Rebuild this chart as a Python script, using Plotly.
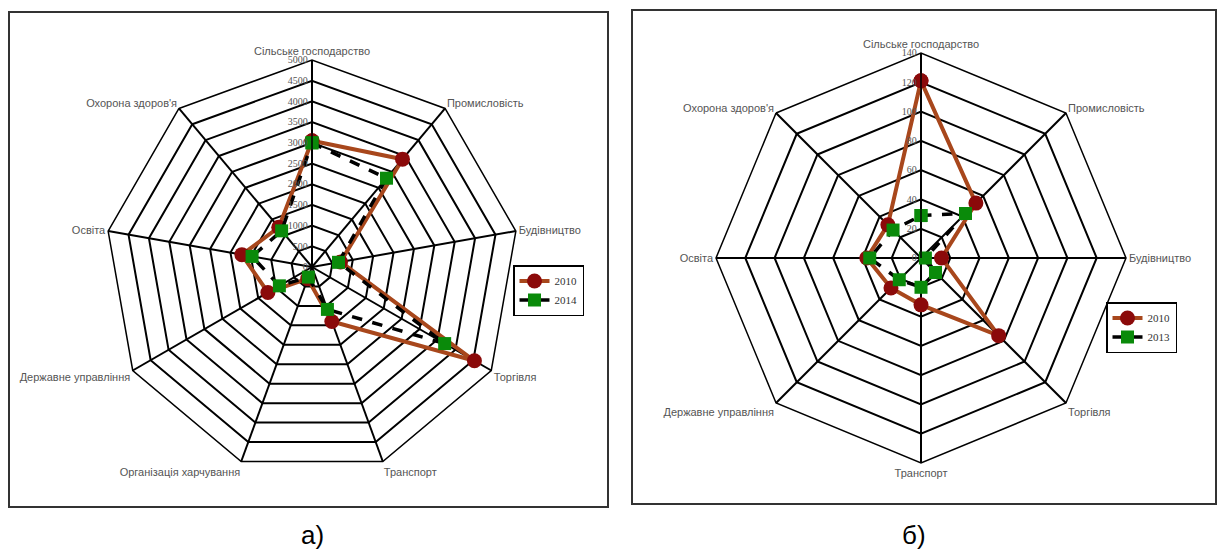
import plotly.graph_objects as go

W, H = 1218, 557

# Left chart (a)
cats_a = ["Сільське господарство", "Промисловість", "Будівництво", "Торгівля", "Транспорт",
          "Організація харчування", "Державне управління", "Освіта", "Охорона здоров'я"]
a_2010 = [3050, 3400, 700, 4530, 1400, 300, 1230, 1720, 1250]
a_2014 = [3000, 2800, 650, 3700, 1090, 260, 910, 1470, 1140]
a_ticks = [0, 500, 1000, 1500, 2000, 2500, 3000, 3500, 4000, 4500, 5000]

# Right chart (б)
cats_b = ["Сільське господарство", "Промисловість", "Будівництво", "Торгівля", "Транспорт",
          "Державне управління", "Освіта", "Охорона здоров'я"]
b_2010 = [121, 53, 14, 75, 32, 29, 37, 32]
b_2013 = [29, 43, 3, 14, 20, 21, 35, 27]
b_ticks = [0, 20, 40, 60, 80, 100, 120, 140]

BROWN = "#A8471C"
DRED = "#8B0A0A"
GREEN = "#0A8A0A"


def close(lst):
    return list(lst) + [lst[0]]


def px_dom(cx, cy, r):
    x = [(cx - r) / W, (cx + r) / W]
    y = [1 - (cy + r) / H, 1 - (cy - r) / H]
    return x, y


fig = go.Figure()

fig.add_trace(go.Scatterpolar(r=close(a_2010), theta=close(cats_a), mode="lines+markers", name="2010",
                              line=dict(color=BROWN, width=4),
                              marker=dict(symbol="circle", size=15, color=DRED),
                              subplot="polar", legend="legend"))
fig.add_trace(go.Scatterpolar(r=close(a_2014), theta=close(cats_a), mode="lines+markers", name="2014",
                              line=dict(color="black", width=3.5, dash="dash"),
                              marker=dict(symbol="square", size=13, color=GREEN),
                              subplot="polar", legend="legend"))
fig.add_trace(go.Scatterpolar(r=close(b_2010), theta=close(cats_b), mode="lines+markers", name="2010",
                              line=dict(color=BROWN, width=4),
                              marker=dict(symbol="circle", size=15, color=DRED),
                              subplot="polar2", legend="legend2"))
fig.add_trace(go.Scatterpolar(r=close(b_2013), theta=close(cats_b), mode="lines+markers", name="2013",
                              line=dict(color="black", width=3.5, dash="dash"),
                              marker=dict(symbol="square", size=13, color=GREEN),
                              subplot="polar2", legend="legend2"))

axfont = dict(family="Liberation Sans Narrow, Liberation Sans, Arial", size=11, color="#555555")
tickfont = dict(family="Liberation Serif, Times New Roman", size=10, color="#555555")


def polar_cfg(cx, cy, r, cats, rmax, ticks):
    dx, dy = px_dom(cx, cy, r)
    return dict(
        domain=dict(x=dx, y=dy),
        gridshape="linear",
        bgcolor="white",
        angularaxis=dict(categoryarray=cats, categoryorder="array", rotation=90,
                         direction="clockwise", showline=True, linecolor="black", linewidth=1.5,
                         gridcolor="black", gridwidth=1.5, ticks="", tickfont=axfont),
        radialaxis=dict(range=[0, rmax], tickvals=ticks, angle=90, side="counterclockwise",
                        showline=True, linecolor="black", linewidth=1.5,
                        gridcolor="black", gridwidth=1.5, ticks="", tickfont=tickfont,
                        tickangle=90),
    )


fig.update_layout(
    width=W, height=H,
    margin=dict(l=0, r=0, t=0, b=0),
    paper_bgcolor="white",
    plot_bgcolor="white",
    polar=polar_cfg(312, 267, 207, cats_a, 5000, a_ticks),
    polar2=polar_cfg(921, 258, 205, cats_b, 140, b_ticks),
    legend=dict(x=513 / W, y=1 - 265 / H, xanchor="left", yanchor="top",
                bordercolor="black", borderwidth=1.5, bgcolor="white",
                font=dict(family="Liberation Serif, Times New Roman", size=11, color="#333333"),
                tracegroupgap=2, itemwidth=30),
    legend2=dict(x=1106 / W, y=1 - 302 / H, xanchor="left", yanchor="top",
                 bordercolor="black", borderwidth=1.5, bgcolor="white",
                 font=dict(family="Liberation Serif, Times New Roman", size=11, color="#333333"),
                 tracegroupgap=2, itemwidth=30),
    showlegend=True,
    shapes=[
        dict(type="rect", xref="paper", yref="paper", x0=9 / W, x1=608 / W,
             y0=1 - 507 / H, y1=1 - 12 / H, line=dict(color="#333333", width=2)),
        dict(type="rect", xref="paper", yref="paper", x0=632 / W, x1=1216 / W,
             y0=1 - 504 / H, y1=1 - 10 / H, line=dict(color="#333333", width=2)),
    ],
    annotations=[
        dict(text="а)", x=312 / W, y=1 - 535 / H, xref="paper", yref="paper", showarrow=False,
             xanchor="center", yanchor="middle",
             font=dict(family="Liberation Sans, Arial", size=26, color="black")),
        dict(text="б)", x=914 / W, y=1 - 535 / H, xref="paper", yref="paper", showarrow=False,
             xanchor="center", yanchor="middle",
             font=dict(family="Liberation Sans, Arial", size=26, color="black")),
    ],
)

fig.write_html("out.html", config={"displayModeBar": False},
               post_script="document.body.style.margin='0px';document.body.style.overflow='hidden';")
